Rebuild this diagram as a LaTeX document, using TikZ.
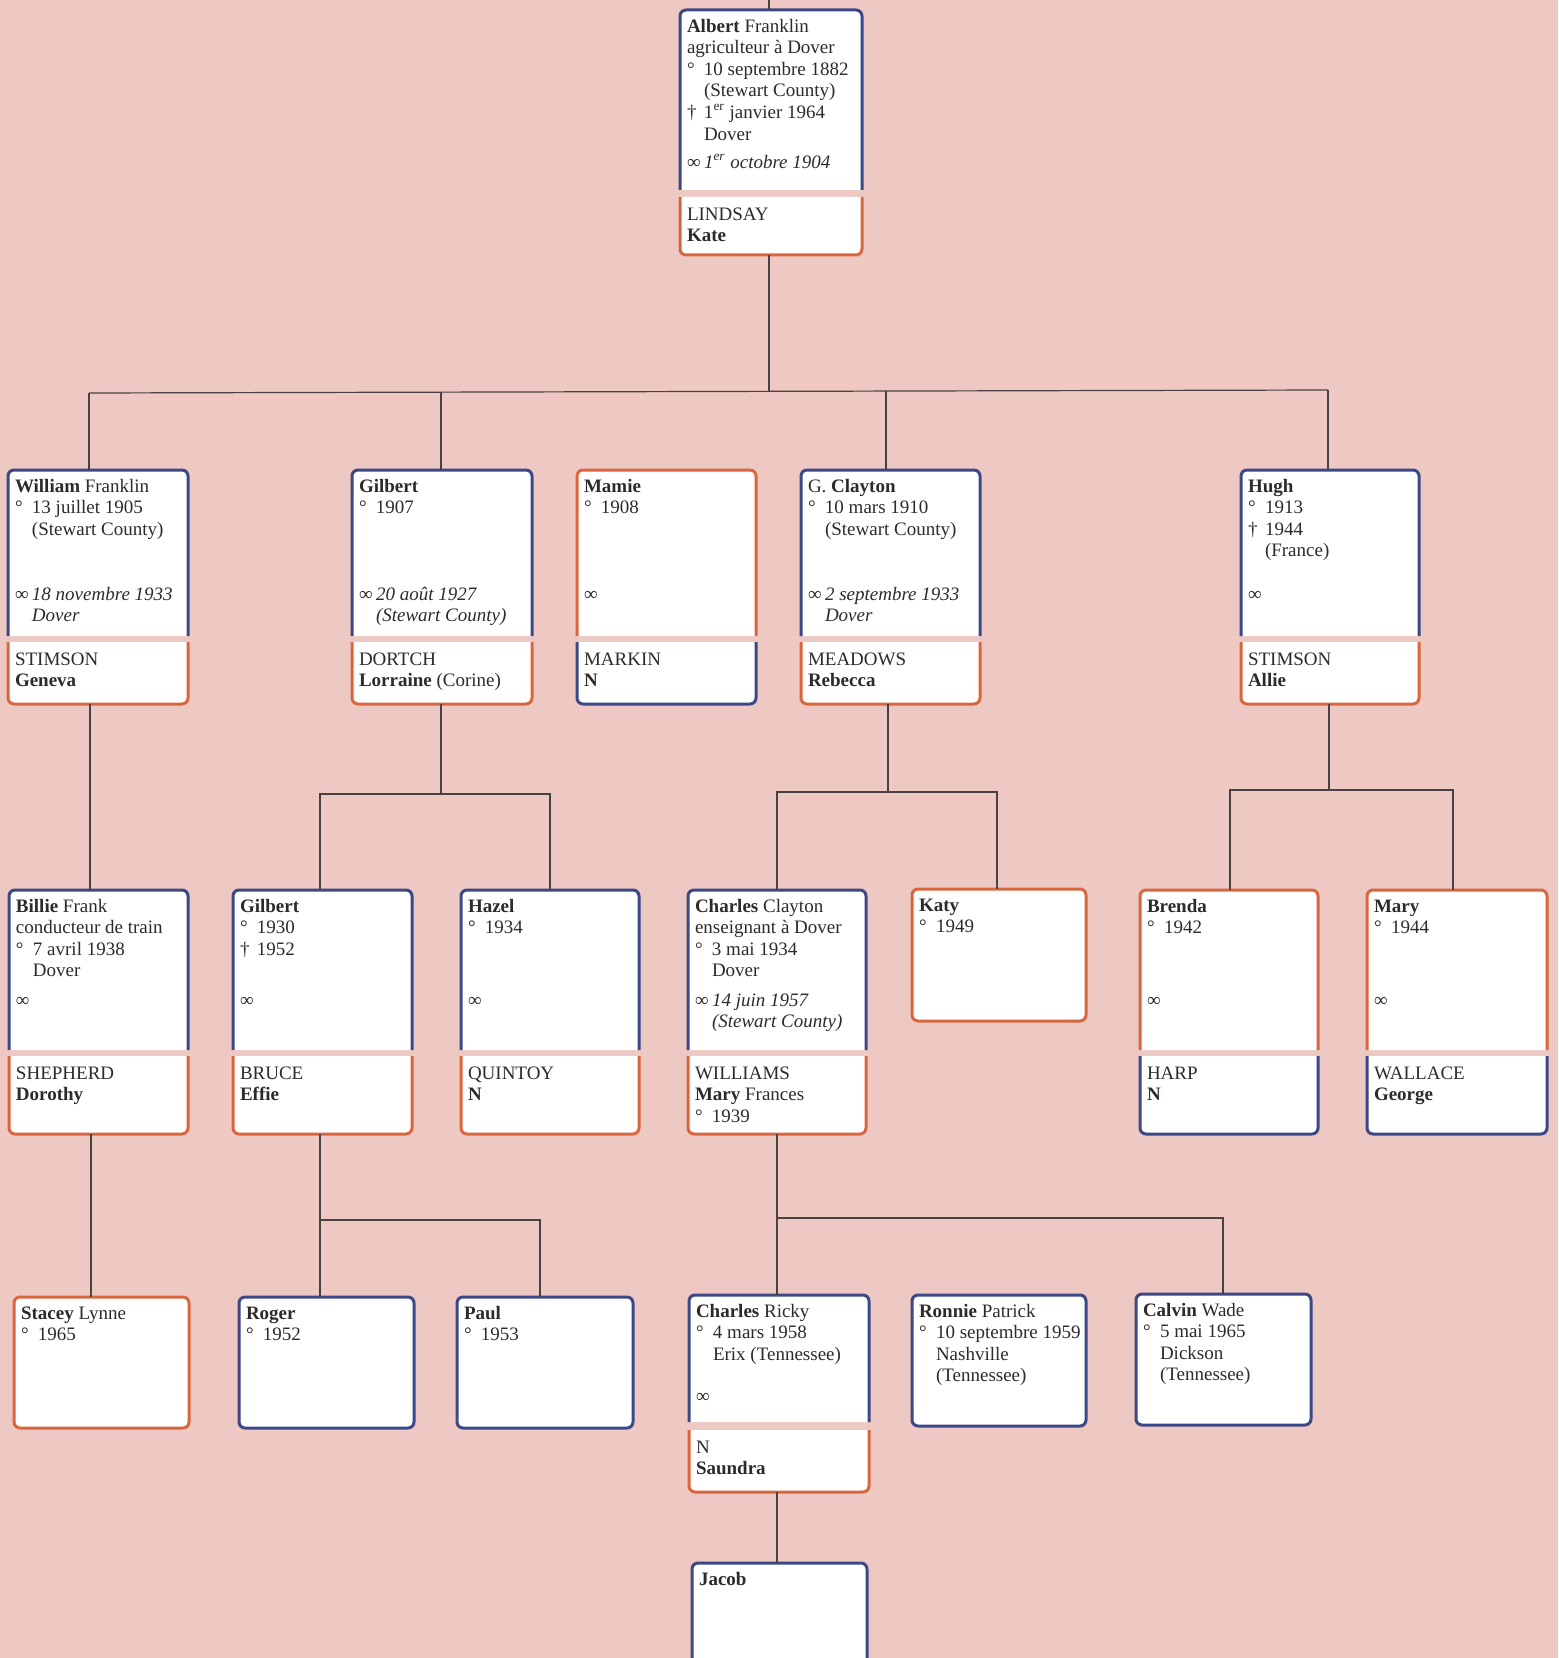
\documentclass[tikz,border=0pt]{standalone}
\usepackage{fontspec}
\setmainfont{Liberation Serif}
\usetikzlibrary{fit}

\definecolor{bgpink}{HTML}{EEC8C2}
\definecolor{mblue}{HTML}{3D4886}
\definecolor{forange}{HTML}{D8673F}
\definecolor{inkcol}{HTML}{2E2A2A}
\definecolor{linkcol}{HTML}{4A4242}

% indentation used for the birth, death and marriage lines
\newlength\indw
\setlength\indw{8.5pt}
\newcommand\famdeg{\makebox[\indw][l]{°}}
\newcommand\famdag{\makebox[\indw][l]{†}}
\newcommand\fammar{\makebox[\indw][l]{∞}}
\newcommand\famind{\hspace*{\indw}}

\tikzset{
  famcell/.style={inner sep=0pt, outer sep=0pt},
  famborder/.style={fill=white, line width=1.5pt, rounded corners=3pt},
  famtxt/.style={inner sep=0pt, outer sep=0pt, anchor=north west, align=left,
    font=\fontsize{9.5}{10.8}\selectfont, text=inkcol},
  famlink/.style={draw=linkcol, line width=0.6pt},
}

% upper part of a card: open at the bottom
\newcommand\headpart[6]{%
  \node[famcell, fit={(#3,#4) (#5,#6)}] (#1) {};
  \path[famborder, draw=#2] (#1.south west) -- (#1.north west) -- (#1.north east) -- (#1.south east);}
% spouse part of a card: open at the top
\newcommand\spousepart[6]{%
  \node[famcell, fit={(#3,#4) (#5,#6)}] (#1) {};
  \path[famborder, draw=#2] (#1.north west) -- (#1.south west) -- (#1.south east) -- (#1.north east);}
% closed card without spouse
\newcommand\singlepart[6]{%
  \node[famcell, fit={(#3,#4) (#5,#6)}] (#1) {};
  \path[famborder, draw=#2] (#1.south west) rectangle (#1.north east);}
\newcommand\headtext[2]{\node[famtxt] (#1-t) at ([shift={(7,7)}]#1.north west) {\strut #2};}
\newcommand\marrtext[3]{\node[famtxt] (#1-m) at ([shift={(7,#2)}]#1.north west) {\strut #3};}
\newcommand\spousetext[2]{\node[famtxt] (#1-t) at ([shift={(7,8)}]#1.north west) {\strut #2};}

\begin{document}
\begin{tikzpicture}[x=0.5pt, y=-0.5pt]
\useasboundingbox (0,0) rectangle (1558,1658);
\fill[bgpink] (0,0) rectangle (1558,1658);

% ---------- generation 0
\headpart{albert}{mblue}{680}{10}{862}{190}
\spousepart{albert-s}{forange}{680}{197}{862}{255}
\headtext{albert}{\textbf{Albert} Franklin\\agriculteur à Dover\\\famdeg 10 septembre 1882\\\famind(Stewart County)\\\famdag 1\textsuperscript{er} janvier 1964\\\famind Dover}
\marrtext{albert}{143}{\fammar\textit{1\textsuperscript{er} octobre 1904}}
\spousetext{albert-s}{LINDSAY\\\textbf{Kate}}

% ---------- generation 1
\headpart{william}{mblue}{8}{470}{188}{636}
\spousepart{william-s}{forange}{8}{642}{188}{704}
\headtext{william}{\textbf{William} Franklin\\\famdeg 13 juillet 1905\\\famind(Stewart County)}
\marrtext{william}{115}{\fammar\textit{18 novembre 1933}\\\famind\textit{Dover}}
\spousetext{william-s}{STIMSON\\\textbf{Geneva}}

\headpart{gilbert}{mblue}{352}{470}{532}{636}
\spousepart{gilbert-s}{forange}{352}{642}{532}{704}
\headtext{gilbert}{\textbf{Gilbert}\\\famdeg 1907}
\marrtext{gilbert}{115}{\fammar\textit{20 août 1927}\\\famind\textit{(Stewart County)}}
\spousetext{gilbert-s}{DORTCH\\\textbf{Lorraine} (Corine)}

\headpart{mamie}{forange}{577}{470}{756}{636}
\spousepart{mamie-s}{mblue}{577}{642}{756}{704}
\headtext{mamie}{\textbf{Mamie}\\\famdeg 1908}
\marrtext{mamie}{115}{∞}
\spousetext{mamie-s}{MARKIN\\\textbf{N}}

\headpart{clayton}{mblue}{801}{470}{980}{636}
\spousepart{clayton-s}{forange}{801}{642}{980}{704}
\headtext{clayton}{G. \textbf{Clayton}\\\famdeg 10 mars 1910\\\famind(Stewart County)}
\marrtext{clayton}{115}{\fammar\textit{2 septembre 1933}\\\famind\textit{Dover}}
\spousetext{clayton-s}{MEADOWS\\\textbf{Rebecca}}

\headpart{hugh}{mblue}{1241}{470}{1419}{636}
\spousepart{hugh-s}{forange}{1241}{642}{1419}{704}
\headtext{hugh}{\textbf{Hugh}\\\famdeg 1913\\\famdag 1944\\\famind(France)}
\marrtext{hugh}{115}{∞}
\spousetext{hugh-s}{STIMSON\\\textbf{Allie}}

% ---------- generation 2
\headpart{billie}{mblue}{9}{890}{188}{1050}
\spousepart{billie-s}{forange}{9}{1056}{188}{1134}
\headtext{billie}{\textbf{Billie} Frank\\conducteur de train\\\famdeg 7 avril 1938\\\famind Dover}
\marrtext{billie}{101}{∞}
\spousetext{billie-s}{SHEPHERD\\\textbf{Dorothy}}

\headpart{gilbert2}{mblue}{233}{890}{412}{1050}
\spousepart{gilbert2-s}{forange}{233}{1056}{412}{1134}
\headtext{gilbert2}{\textbf{Gilbert}\\\famdeg 1930\\\famdag 1952}
\marrtext{gilbert2}{101}{∞}
\spousetext{gilbert2-s}{BRUCE\\\textbf{Effie}}

\headpart{hazel}{mblue}{461}{890}{639}{1050}
\spousepart{hazel-s}{forange}{461}{1056}{639}{1134}
\headtext{hazel}{\textbf{Hazel}\\\famdeg 1934}
\marrtext{hazel}{101}{∞}
\spousetext{hazel-s}{QUINTOY\\\textbf{N}}

\headpart{charles}{mblue}{688}{890}{866}{1050}
\spousepart{charles-s}{forange}{688}{1056}{866}{1134}
\headtext{charles}{\textbf{Charles} Clayton\\enseignant à Dover\\\famdeg 3 mai 1934\\\famind Dover}
\marrtext{charles}{101}{\fammar\textit{14 juin 1957}\\\famind\textit{(Stewart County)}}
\spousetext{charles-s}{WILLIAMS\\\textbf{Mary} Frances\\\famdeg 1939}

\singlepart{katy}{forange}{912}{889}{1086}{1021}
\headtext{katy}{\textbf{Katy}\\\famdeg 1949}

\headpart{brenda}{forange}{1140}{890}{1318}{1050}
\spousepart{brenda-s}{mblue}{1140}{1056}{1318}{1134}
\headtext{brenda}{\textbf{Brenda}\\\famdeg 1942}
\marrtext{brenda}{101}{∞}
\spousetext{brenda-s}{HARP\\\textbf{N}}

\headpart{mary}{forange}{1367}{890}{1547}{1050}
\spousepart{mary-s}{mblue}{1367}{1056}{1547}{1134}
\headtext{mary}{\textbf{Mary}\\\famdeg 1944}
\marrtext{mary}{101}{∞}
\spousetext{mary-s}{WALLACE\\\textbf{George}}

% ---------- generation 3
\singlepart{stacey}{forange}{14}{1297}{189}{1428}
\headtext{stacey}{\textbf{Stacey} Lynne\\\famdeg 1965}

\singlepart{roger}{mblue}{239}{1297}{414}{1428}
\headtext{roger}{\textbf{Roger}\\\famdeg 1952}

\singlepart{paul}{mblue}{457}{1297}{633}{1428}
\headtext{paul}{\textbf{Paul}\\\famdeg 1953}

\headpart{charlesr}{mblue}{689}{1295}{869}{1422}
\spousepart{charlesr-s}{forange}{689}{1430}{869}{1492}
\headtext{charlesr}{\textbf{Charles} Ricky\\\famdeg 4 mars 1958\\\famind Erix (Tennessee)}
\marrtext{charlesr}{92}{∞}
\spousetext{charlesr-s}{N\\\textbf{Saundra}}

\singlepart{ronnie}{mblue}{912}{1295}{1086}{1426}
\headtext{ronnie}{\textbf{Ronnie} Patrick\\\famdeg 10 septembre 1959\\\famind Nashville\\\famind(Tennessee)}

\singlepart{calvin}{mblue}{1136}{1294}{1311}{1425}
\headtext{calvin}{\textbf{Calvin} Wade\\\famdeg 5 mai 1965\\\famind Dickson\\\famind(Tennessee)}

% ---------- generation 4 (card runs off the page)
\headpart{jacob}{mblue}{692}{1563}{867}{1690}
\headtext{jacob}{\textbf{Jacob}}

% ---------- connectors
\coordinate (top0) at (769,0);
\draw[famlink] (top0) -- (top0 |- albert.north);
\coordinate (j0) at (769,392);
\draw[famlink] (j0 |- albert-s.south) -- (j0);
\coordinate (jw) at (89,393);
\coordinate (jh) at (1328,390);
\coordinate (jg) at (441,392);
\coordinate (jc) at (886,391);
\draw[famlink] (jw) -- (jh);
\draw[famlink] (jw) -- (jw |- william.north);
\draw[famlink] (jg) -- (jg |- gilbert.north);
\draw[famlink] (jc) -- (jc |- clayton.north);
\draw[famlink] (jh) -- (jh |- hugh.north);

\coordinate (kw) at (90,0);
\draw[famlink] (kw |- william-s.south) -- (kw |- billie.north);
\coordinate (kg) at (441,794);
\coordinate (kg1) at (320,794);
\coordinate (kg2) at (550,794);
\draw[famlink] (kg |- gilbert-s.south) -- (kg);
\draw[famlink] (kg1 |- gilbert2.north) -- (kg1) -- (kg2) -- (kg2 |- hazel.north);
\coordinate (kc) at (888,792);
\coordinate (kc1) at (777,792);
\coordinate (kc2) at (997,792);
\draw[famlink] (kc |- clayton-s.south) -- (kc);
\draw[famlink] (kc1 |- charles.north) -- (kc1) -- (kc2) -- (kc2 |- katy.north);
\coordinate (kh) at (1329,790);
\coordinate (kh1) at (1230,790);
\coordinate (kh2) at (1453,790);
\draw[famlink] (kh |- hugh-s.south) -- (kh);
\draw[famlink] (kh1 |- brenda.north) -- (kh1) -- (kh2) -- (kh2 |- mary.north);

\coordinate (lb) at (91,0);
\draw[famlink] (lb |- billie-s.south) -- (lb |- stacey.north);
\coordinate (lg1) at (320,1220);
\coordinate (lg2) at (540,1220);
\draw[famlink] (lg1 |- gilbert2-s.south) -- (lg1 |- roger.north);
\draw[famlink] (lg1) -- (lg2) -- (lg2 |- paul.north);
\coordinate (lc1) at (777,1218);
\coordinate (lc2) at (1223,1218);
\draw[famlink] (lc1 |- charles-s.south) -- (lc1 |- charlesr.north);
\draw[famlink] (lc1) -- (lc2) -- (lc2 |- calvin.north);

\coordinate (mc) at (777,0);
\draw[famlink] (mc |- charlesr-s.south) -- (mc |- jacob.north);
\end{tikzpicture}
\end{document}
